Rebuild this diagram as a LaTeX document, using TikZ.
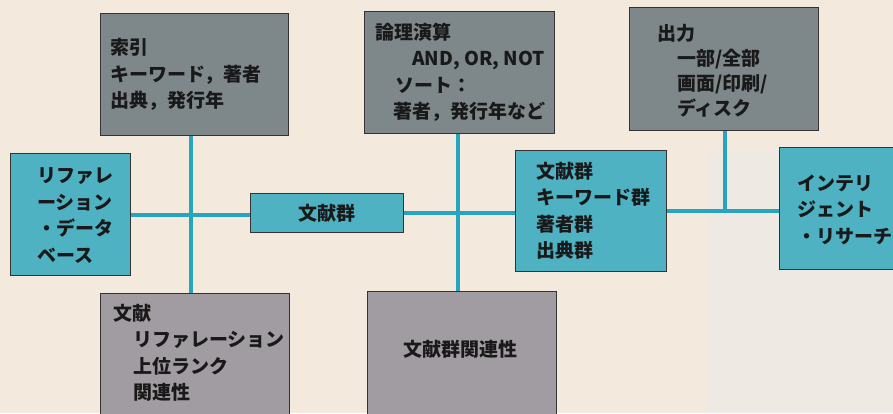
\documentclass[tikz,border=0pt]{standalone}
\usepackage{fontspec}
\setmainfont{Noto Sans CJK JP}
\usetikzlibrary{backgrounds}
\pgfdeclarelayer{paperlayer}
\pgfsetlayers{paperlayer,background,main}
\definecolor{paper}{HTML}{F3E9DD}
\definecolor{papergrey}{HTML}{EEE9E3}
\definecolor{tealfill}{HTML}{4FB2C3}
\definecolor{darkgrey}{HTML}{7E888B}
\definecolor{warmgrey}{HTML}{A19CA1}
\definecolor{linkc}{HTML}{27A4BE}
\begin{document}
\begin{tikzpicture}[x=1pt,y=-1pt,
  box/.style={draw=black!80, line width=0.8pt, inner sep=0pt, anchor=north west},
  tealbox/.style={box, fill=tealfill},
  greybox/.style={box, fill=darkgrey},
  lowbox/.style={box, fill=warmgrey},
  txt/.style={font=\fontsize{19}{26.5}\selectfont\bfseries, text=black!90, align=left, inner sep=0pt, anchor=west},
  link/.style={draw=linkc, line width=4pt}
]
\useasboundingbox (0,0) rectangle (893,413);
\begin{pgfonlayer}{paperlayer}
\fill[paper] (0,0) rectangle (893,413);
\fill[papergrey] (707,150) rectangle (893,413);
\end{pgfonlayer}

% boxes
\node[greybox, minimum width=188pt, minimum height=122pt] (sakuin) at (100,13) {};
\node[greybox, minimum width=190pt, minimum height=122pt] (ronri) at (364,11) {};
\node[greybox, minimum width=189pt, minimum height=123pt] (shutsu) at (629,7) {};
\node[tealbox, minimum width=120pt, minimum height=122pt] (db) at (10,153) {};
\node[tealbox, minimum width=153pt, minimum height=39pt] (small) at (250,193) {};
\node[tealbox, minimum width=151pt, minimum height=121pt] (big) at (515,150) {};
\node[tealbox, minimum width=130pt, minimum height=122pt] (intel) at (779,147) {};
\node[lowbox, minimum width=189pt, minimum height=123pt] (bunken) at (100,293) {};
\node[lowbox, minimum width=189pt, minimum height=125pt] (kanren) at (367,291) {};

% connectors
\begin{scope}[on background layer]
\draw[link] ([xshift=-3pt]sakuin.south) -- ([xshift=-3pt]sakuin.south |- bunken.north);
\draw[link] ([yshift=-1pt]db.east) -- ([yshift=-1pt]db.east -| small.west);
\draw[link] ([xshift=-1pt]ronri.south) -- ([xshift=-1pt]ronri.south |- kanren.north);
\draw[link] (small.east) -- (small.east -| big.west);
\draw[link] ([xshift=1.5pt]shutsu.south) -- ([xshift=1.5pt]shutsu.south |- big.east);
\draw[link] (big.east) -- (big.east -| intel.west);
\end{scope}

% texts
\node[txt] (tsakuin) at ([xshift=10pt]sakuin.west) {索引\\キーワード，著者\\出典，発行年};
\node[txt] (tronri) at ([xshift=11pt]ronri.west) {論理演算\\\hspace{37pt}AND, OR, NOT\\\hspace{20pt}ソート：\\\hspace{18pt}著者，発行年など};
\node[txt, font=\fontsize{19}{25}\selectfont\bfseries] (tshutsu) at ([xshift=28pt,yshift=-2pt]shutsu.west) {出力\\\hspace{20pt}一部/全部\\\hspace{20pt}画面/印刷/\\\hspace{20pt}ディスク};
\node[txt] (tdb) at ([xshift=27pt,yshift=-1pt]db.west) {リファレ\\ーション\\・データ\\ベース};
\node[txt, anchor=center] (tsmall) at (small.center) {文献群};
\node[txt] (tbig) at ([xshift=21pt]big.west) {文献群\\キーワード群\\著者群\\出典群};
\node[txt] (tintel) at ([xshift=18pt,yshift=-1pt]intel.west) {インテリ\\ジェント\\・リサーチ};
\node[txt] (tbunken) at ([xshift=13pt,yshift=2pt]bunken.west) {文献\\\hspace{20pt}リファレーション\\\hspace{20pt}上位ランク\\\hspace{20pt}関連性};
\node[txt, anchor=center] (tkanren) at ([xshift=-1pt,yshift=5pt]kanren.center) {文献群関連性};
\end{tikzpicture}
\end{document}
